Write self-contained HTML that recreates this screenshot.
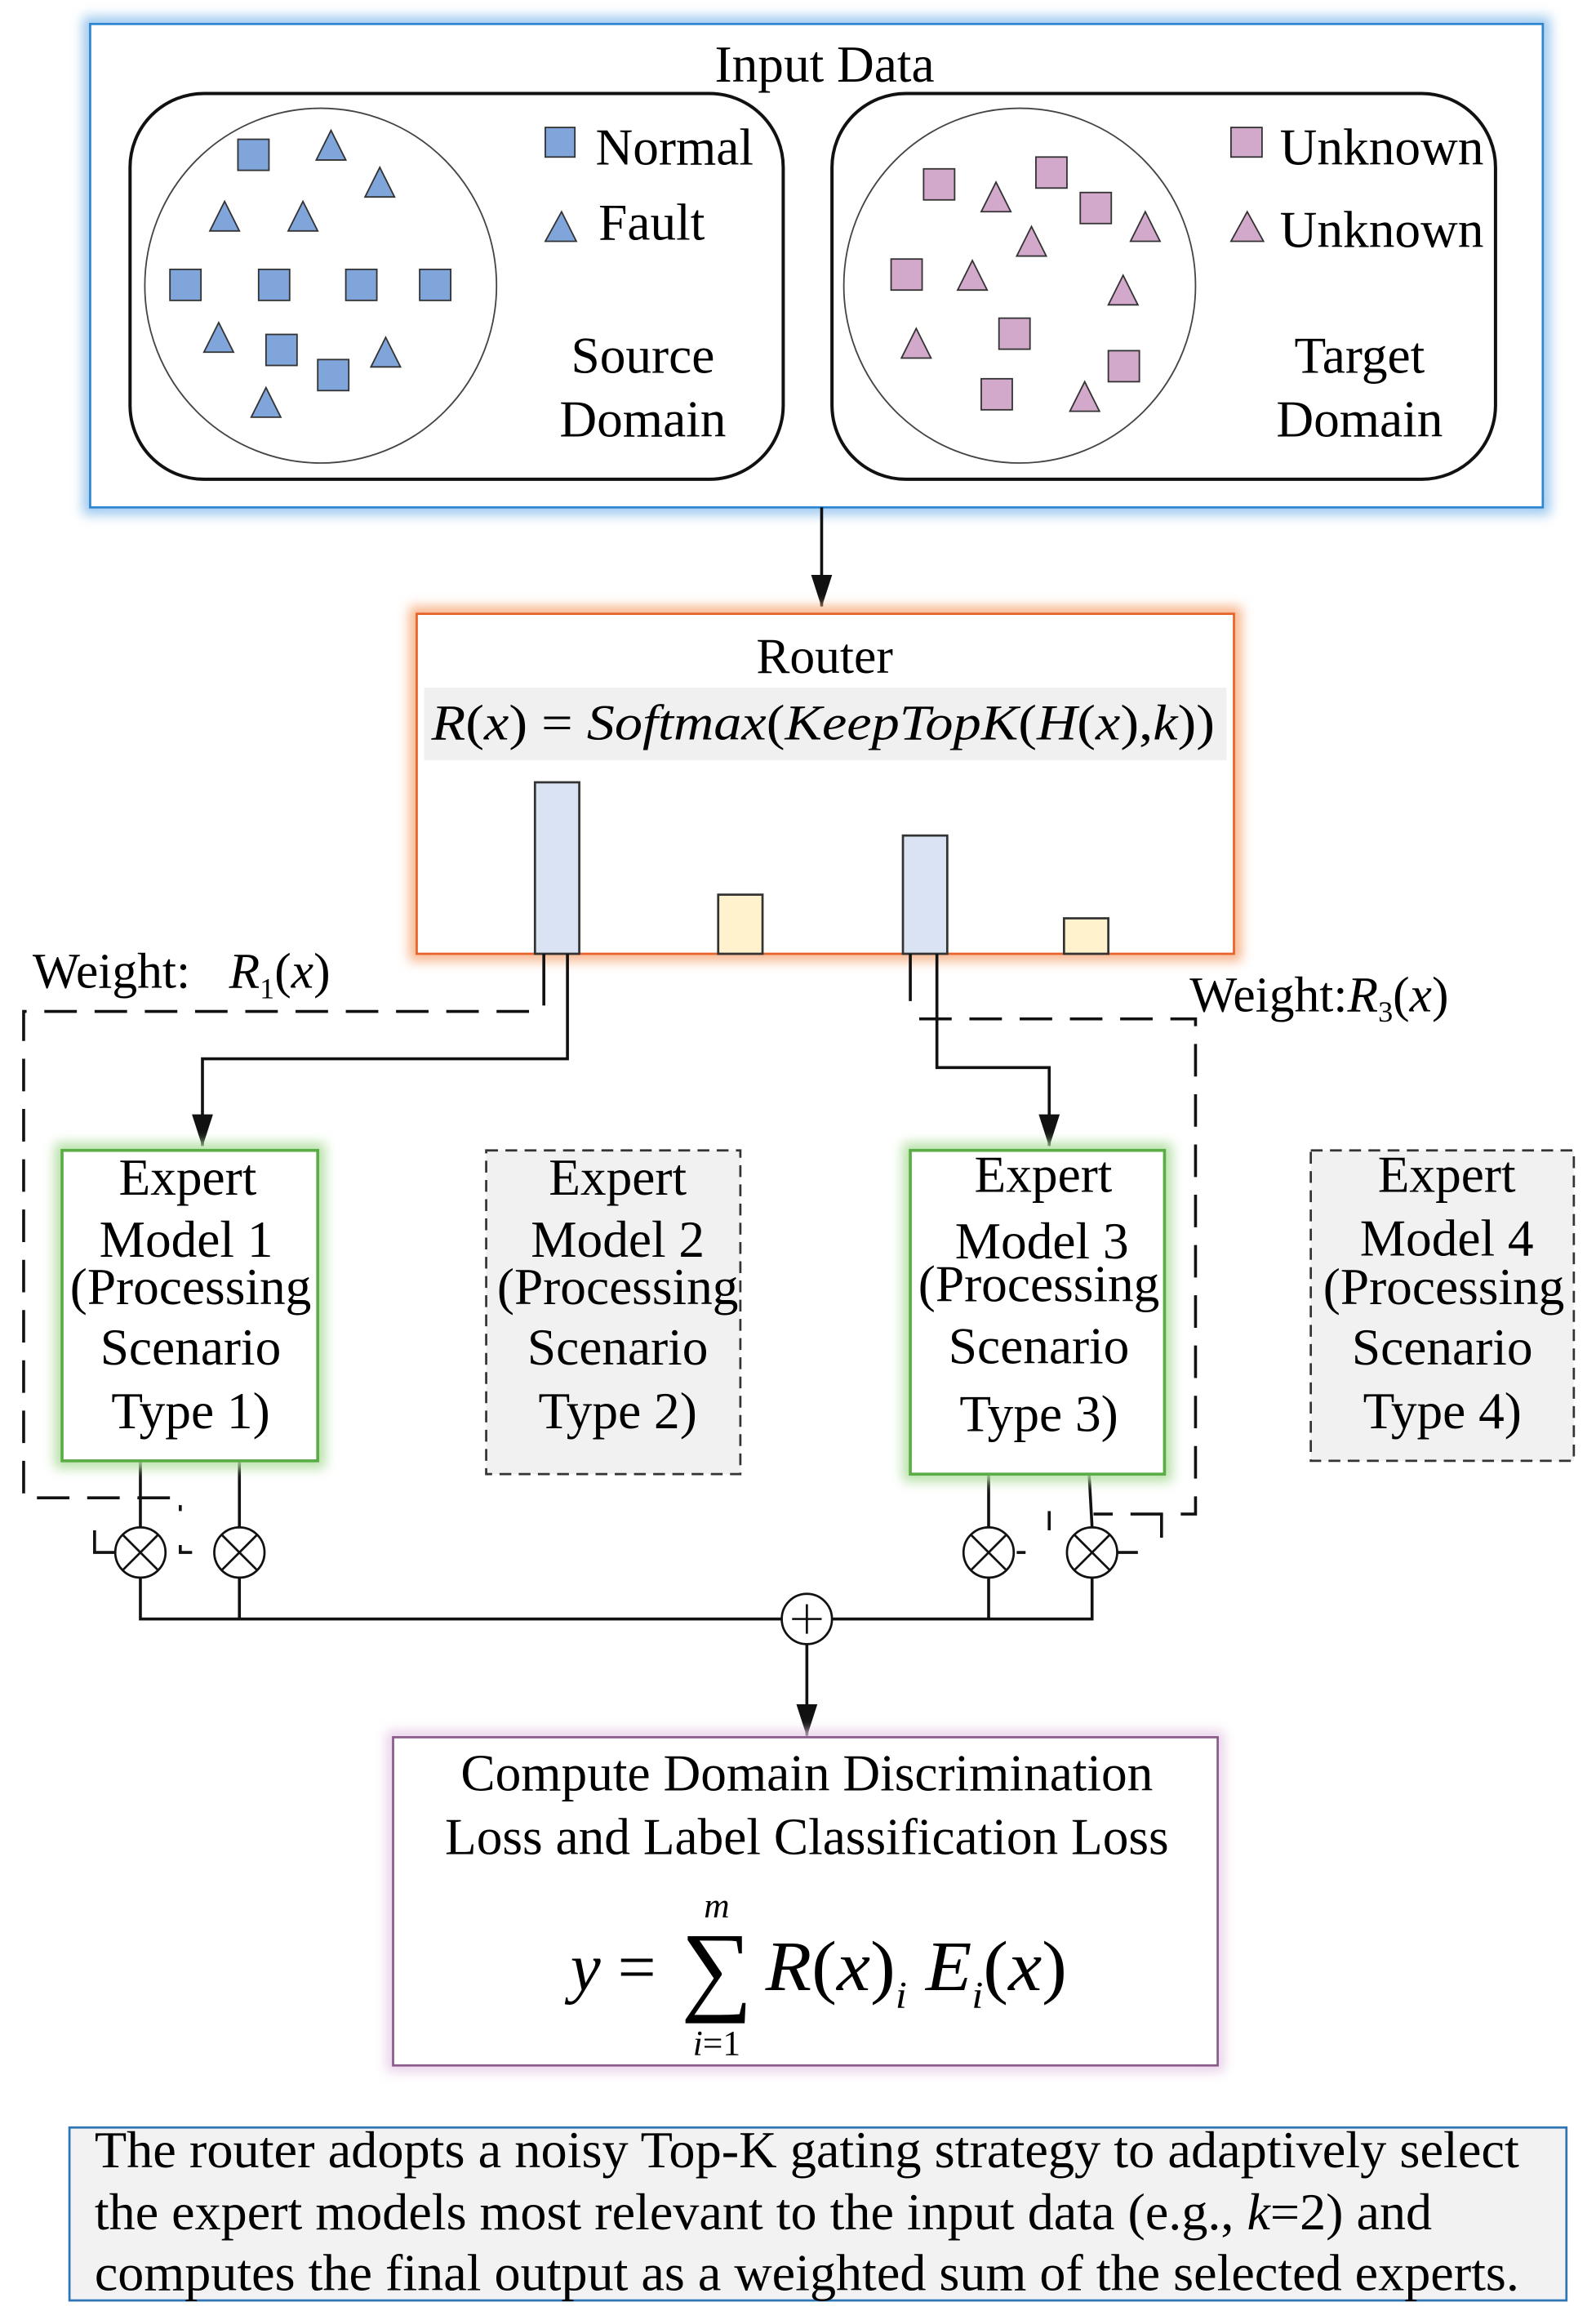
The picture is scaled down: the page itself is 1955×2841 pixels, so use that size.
<!DOCTYPE html>
<html><head><meta charset="utf-8"><style>html,body{margin:0;padding:0;background:#fff}svg{display:block}</style></head>
<body>
<svg width="1955" height="2841" viewBox="0 0 1080 1569" xmlns="http://www.w3.org/2000/svg" font-family="'Liberation Serif', serif">
<defs>
<filter id="gb" x="-20%" y="-20%" width="140%" height="140%"><feGaussianBlur stdDeviation="4"/></filter>
<marker id="ar" markerWidth="22" markerHeight="34" refX="33" refY="11" orient="auto" markerUnits="userSpaceOnUse" viewBox="0 0 34 22"><path d="M0,0 L34,11 L0,22 Z" fill="#111"/></marker>
</defs>
<!-- Input data -->
<rect x="61" y="16" width="983" height="327" fill="none" stroke="#9cc8ef" stroke-width="10" filter="url(#gb)"/>
<rect x="61" y="16" width="983" height="327" fill="#fff" stroke="#2e86d0" stroke-width="1.5"/>
<text x="558" y="55" font-size="35" text-anchor="middle">Input Data</text>
<rect x="88" y="63" width="442" height="261" rx="50" fill="none" stroke="#111" stroke-width="2.2"/>
<rect x="563" y="63" width="449" height="261" rx="50" fill="none" stroke="#111" stroke-width="2.2"/>
<ellipse cx="217" cy="193" rx="119" ry="120" fill="none" stroke="#444" stroke-width="1"/>
<ellipse cx="690" cy="193" rx="119" ry="120" fill="none" stroke="#444" stroke-width="1"/>
<g fill="#7fa5da" stroke="#333" stroke-width="1">
<rect x="161" y="94" width="21" height="21"/><rect x="175" y="182" width="21" height="21"/><rect x="115" y="182" width="21" height="21"/><rect x="234" y="182" width="21" height="21"/><rect x="284" y="182" width="21" height="21"/><rect x="180" y="226" width="21" height="21"/><rect x="215" y="243" width="21" height="21"/>
<rect x="369" y="86" width="20" height="20"/>
<polygon points="224,88 234,108 214,108"/><polygon points="257,113 267,133 247,133"/><polygon points="152,136 162,156 142,156"/><polygon points="205,136 215,156 195,156"/><polygon points="148,218 158,238 138,238"/><polygon points="261,228 271,248 251,248"/><polygon points="180,262 190,282 170,282"/>
<polygon points="380,143 390,163 369,163"/>
</g>
<g fill="#d3a9cb" stroke="#333" stroke-width="1">
<rect x="625" y="114" width="21" height="21"/><rect x="701" y="106" width="21" height="21"/><rect x="731" y="130" width="21" height="21"/><rect x="603" y="175" width="21" height="21"/><rect x="676" y="215" width="21" height="21"/><rect x="750" y="237" width="21" height="21"/><rect x="664" y="256" width="21" height="21"/>
<rect x="833" y="86" width="21" height="20"/>
<polygon points="674,123 684,143 664,143"/><polygon points="775,143 785,163 765,163"/><polygon points="698,153 708,173 688,173"/><polygon points="658,176 668,196 648,196"/><polygon points="760,186 770,206 750,206"/><polygon points="620,222 630,242 610,242"/><polygon points="734,258 744,278 724,278"/>
<polygon points="844,143 855,163 833,163"/>
</g>
<g font-size="35">
<text x="403" y="111">Normal</text><text x="405" y="162">Fault</text>
<text x="435" y="252" text-anchor="middle">Source</text><text x="435" y="295" text-anchor="middle">Domain</text>
<text x="866" y="111">Unknown</text><text x="866" y="167">Unknown</text>
<text x="920" y="252" text-anchor="middle">Target</text><text x="920" y="295" text-anchor="middle">Domain</text>
</g>
<line x1="556" y1="343" x2="556" y2="410" stroke="#111" stroke-width="2" marker-end="url(#ar)"/>
<!-- Router -->
<rect x="282" y="415" width="553" height="230" fill="none" stroke="#f8b48a" stroke-width="10" filter="url(#gb)"/>
<rect x="282" y="415" width="553" height="230" fill="#fff" stroke="#e8632a" stroke-width="1.5"/>
<text x="558" y="455" font-size="34" text-anchor="middle">Router</text>
<rect x="287" y="465" width="543" height="49" fill="#f0f0f0"/>
<text x="292" y="500" font-size="34" font-style="italic" textLength="530" lengthAdjust="spacingAndGlyphs"><tspan>R</tspan><tspan font-style="normal">(</tspan>x<tspan font-style="normal">) = </tspan>Softmax<tspan font-style="normal">(</tspan>KeepTopK<tspan font-style="normal">(</tspan>H<tspan font-style="normal">(</tspan>x<tspan font-style="normal">),</tspan>k<tspan font-style="normal">))</tspan></text>
<g stroke="#333" stroke-width="1.5">
<rect x="362" y="529" width="30" height="116" fill="#d9e3f3"/>
<rect x="486" y="605" width="30" height="40" fill="#fff2cc"/>
<rect x="611" y="565" width="30" height="80" fill="#d9e3f3"/>
<rect x="720" y="621" width="30" height="24" fill="#fff2cc"/>
</g>
<!-- connectors -->
<g stroke="#111" stroke-width="2" fill="none">
<line x1="368" y1="645" x2="368" y2="680"/>
<polyline points="384,645 384,716 137,716 137,775" marker-end="url(#ar)"/>
<line x1="616" y1="645" x2="616" y2="677"/>
<polyline points="634,645 634,722 710,722 710,775" marker-end="url(#ar)"/>
<line x1="95" y1="988" x2="95" y2="1033"/><line x1="162" y1="988" x2="162" y2="1033"/>
<line x1="669" y1="997" x2="669" y2="1033"/><line x1="737" y1="997" x2="739" y2="1033"/>
<polyline points="95,1067 95,1095 529,1095"/><line x1="162" y1="1067" x2="162" y2="1095"/>
<polyline points="739,1067 739,1095 563,1095"/><line x1="669" y1="1067" x2="669" y2="1095"/>
<line x1="546" y1="1112" x2="546" y2="1174" marker-end="url(#ar)"/>
</g>
<g stroke="#111" stroke-width="2" fill="none" stroke-dasharray="22,12">
<polyline points="358,684 16,684 16,1013 122,1013 122,1022"/>
<polyline points="622,689 809,689 809,1024 740,1024"/>
</g>
<g stroke="#111" stroke-width="2" fill="none">
<polyline points="64,1035 64,1050 78,1050"/><polyline points="122,1045 122,1050 130,1050"/>
<polyline points="710,1035 710,1022"/><polyline points="756,1050 770,1050"/><polyline points="786,1024 786,1040"/>
<line x1="688" y1="1050" x2="694" y2="1050"/>
</g>
<g stroke="#111" stroke-width="1.5" fill="#fff">
<circle cx="95" cy="1050" r="17"/><circle cx="162" cy="1050" r="17"/><circle cx="669" cy="1050" r="17"/><circle cx="739" cy="1050" r="17"/>
<circle cx="546" cy="1095" r="17"/>
</g>
<g stroke="#111" stroke-width="1.5">
<path d="M83,1038 L107,1062 M107,1038 L83,1062"/><path d="M150,1038 L174,1062 M174,1038 L150,1062"/>
<path d="M657,1038 L681,1062 M681,1038 L657,1062"/><path d="M727,1038 L751,1062 M751,1038 L727,1062"/>
<path d="M536,1095 L556,1095 M546,1085 L546,1105"/>
</g>
<text x="22" y="668" font-size="34">Weight:</text>
<text x="155" y="668" font-size="34" font-style="italic">R<tspan font-size="20" font-style="normal" dy="7">1</tspan><tspan dy="-7" font-style="normal">(</tspan>x<tspan font-style="normal">)</tspan></text>
<text x="805" y="684" font-size="34">Weight:<tspan font-style="italic">R</tspan><tspan font-size="20" dy="7">3</tspan><tspan dy="-7">(</tspan><tspan font-style="italic">x</tspan>)</text>
<!-- Experts -->
<rect x="42" y="778" width="173" height="210" fill="none" stroke="#b5e0a5" stroke-width="10" filter="url(#gb)"/>
<rect x="42" y="778" width="173" height="210" fill="#fff" stroke="#5aad45" stroke-width="2"/>
<rect x="616" y="778" width="172" height="219" fill="none" stroke="#b5e0a5" stroke-width="10" filter="url(#gb)"/>
<rect x="616" y="778" width="172" height="219" fill="#fff" stroke="#5aad45" stroke-width="2"/>
<rect x="329" y="778" width="172" height="219" fill="#f1f1f1" stroke="#333" stroke-width="1.5" stroke-dasharray="8,5"/>
<rect x="887" y="778" width="178" height="210" fill="#f1f1f1" stroke="#333" stroke-width="1.5" stroke-dasharray="8,5"/>
<g font-size="35" text-anchor="middle">
<text x="127" y="808">Expert</text><text x="126" y="850">Model 1</text><text x="129" y="882">(Processing</text><text x="129" y="923">Scenario</text><text x="129" y="966">Type 1)</text>
<text x="418" y="808">Expert</text><text x="418" y="850">Model 2</text><text x="418" y="882">(Processing</text><text x="418" y="923">Scenario</text><text x="418" y="966">Type 2)</text>
<text x="706" y="806">Expert</text><text x="705" y="851">Model 3</text><text x="703" y="880">(Processing</text><text x="703" y="922">Scenario</text><text x="703" y="968">Type 3)</text>
<text x="979" y="806">Expert</text><text x="979" y="849">Model 4</text><text x="977" y="882">(Processing</text><text x="976" y="923">Scenario</text><text x="976" y="966">Type 4)</text>
</g>
<!-- bottom box -->
<rect x="266" y="1175" width="558" height="222" fill="none" stroke="#e6cde6" stroke-width="8" filter="url(#gb)"/>
<rect x="266" y="1175" width="558" height="222" fill="#fff" stroke="#8a5a8a" stroke-width="1.5"/>
<g font-size="35" text-anchor="middle">
<text x="546" y="1211">Compute Domain Discrimination</text>
<text x="546" y="1254">Loss and Label Classification Loss</text>
</g>
<text x="386" y="1346" font-size="46" font-style="italic">y</text>
<text x="418" y="1346" font-size="46">=</text>
<text x="485" y="1354" font-size="68" text-anchor="middle">∑</text>
<text x="485" y="1297" font-size="24" font-style="italic" text-anchor="middle">m</text>
<text x="485" y="1390" font-size="24" text-anchor="middle"><tspan font-style="italic">i</tspan>=1</text>
<text x="518" y="1346" font-size="48" textLength="204" lengthAdjust="spacingAndGlyphs"><tspan font-style="italic">R</tspan>(<tspan font-style="italic">x</tspan>)<tspan font-size="26" font-style="italic" dy="12">i</tspan><tspan dy="-12" font-style="italic"> E</tspan><tspan font-size="26" font-style="italic" dy="12">i</tspan><tspan dy="-12">(</tspan><tspan font-style="italic">x</tspan>)</text>
<!-- caption -->
<rect x="47" y="1439" width="1013" height="117" fill="#f2f2f2" stroke="#2e75b6" stroke-width="1.5"/>
<g font-size="35">
<text x="64" y="1466" textLength="964" lengthAdjust="spacingAndGlyphs">The router adopts a noisy Top-K gating strategy to adaptively select</text>
<text x="64" y="1508" textLength="905" lengthAdjust="spacingAndGlyphs">the expert models most relevant to the input data (e.g., <tspan font-style="italic">k</tspan>=2) and</text>
<text x="64" y="1549" textLength="964" lengthAdjust="spacingAndGlyphs">computes the final output as a weighted sum of the selected experts.</text>
</g>
</svg>
</body></html>
